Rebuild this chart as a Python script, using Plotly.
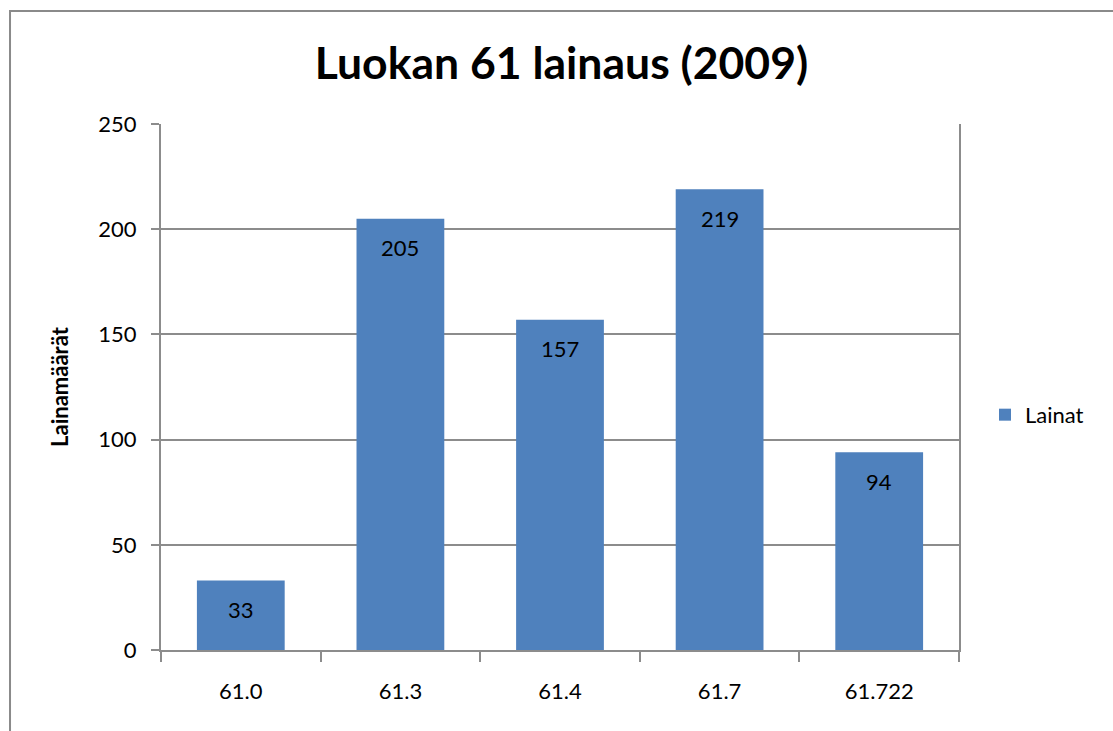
import plotly.graph_objects as go

categories = ["61.0", "61.3", "61.4", "61.7", "61.722"]
values = [33, 205, 157, 219, 94]
series_name = "Lainat"
title_text = "Luokan 61 lainaus (2009)"
y_title = "Lainamäärät"
y_ticks = [0, 50, 100, 150, 200, 250]

BAR = "#4F81BD"
GRID = "#8C8C8C"
FONT = "Lato"

fig = go.Figure()
fig.add_trace(go.Bar(x=categories, y=values, name=series_name,
                     marker=dict(color=BAR, line=dict(width=0)),
                     showlegend=True))

# data labels (x given as category index so numeric-looking names stay categories)
for i, v in enumerate(values):
    fig.add_annotation(x=i, y=v, text=str(v), showarrow=False,
                       yanchor="middle", yshift=-29,
                       font=dict(family=FONT, size=22, color="#000000"))

# outer chart border
fig.add_shape(type="rect", xref="paper", yref="paper",
              x0=-0.1892, x1=1.25, y0=-0.25, y1=1.2148,
              line=dict(color="#8A8A8A", width=2), layer="below")

fig.update_layout(
    width=1113, height=731,
    margin=dict(l=161, r=154, t=124, b=81, pad=0, autoexpand=False),
    paper_bgcolor="white", plot_bgcolor="white",
    title=dict(text=f"<b>{title_text}</b>", x=0.5045, xanchor="center",
               y=0.913, yanchor="middle",
               font=dict(family=FONT, size=44.5, color="#000000")),
    bargap=0.45,
    font=dict(family=FONT, size=22, color="#000000"),
    legend=dict(x=1.0326, y=0.447, xanchor="left", yanchor="middle",
                font=dict(family=FONT, size=22, color="#000000"),
                bgcolor="rgba(0,0,0,0)", itemwidth=30),
    xaxis=dict(type="category", showline=True, linecolor=GRID, linewidth=2,
               ticks="outside", tickson="boundaries", ticklen=10,
               tickcolor=GRID, tickwidth=1.5, showgrid=False,
               ticklabelstandoff=21, tickangle=0, automargin=False,
               tickfont=dict(family=FONT, size=22, color="#000000")),
    yaxis=dict(range=[0, 250], tickvals=y_ticks, showline=True, mirror=True,
               linecolor=GRID, linewidth=2, ticks="outside", ticklen=8,
               tickcolor=GRID, tickwidth=1.5, showgrid=True, gridcolor=GRID,
               gridwidth=1.5, zeroline=False, ticklabelstandoff=10,
               automargin=False,
               tickfont=dict(family=FONT, size=22, color="#000000"),
               title=dict(text=f"<b>{y_title}</b>", standoff=24,
                          font=dict(family=FONT, size=22, color="#000000"))),
)

fig.write_html("out.html", config={"displayModeBar": False},
               post_script="document.body.style.margin='0';")
